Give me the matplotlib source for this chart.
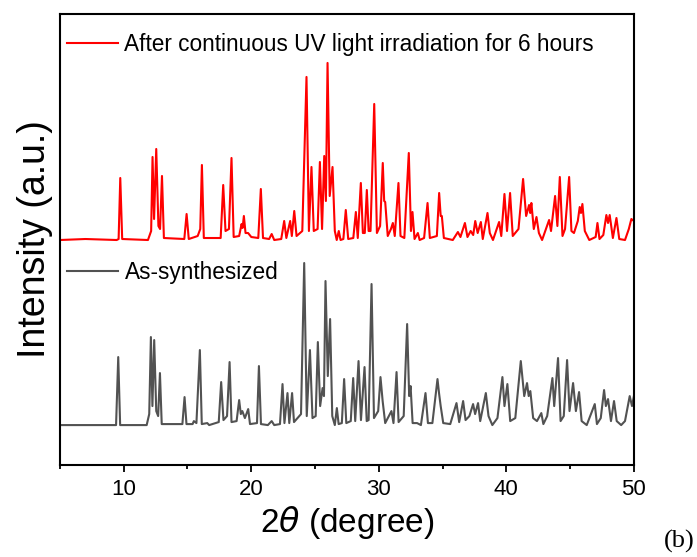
import matplotlib
matplotlib.use("Agg")
import matplotlib.pyplot as plt
from matplotlib.lines import Line2D
from matplotlib.ticker import MultipleLocator

# vertices: 2theta (deg), intensity (a.u., above own baseline)
uv_2theta = [5, 7, 9.45, 9.6, 9.73, 9.88, 11.9, 12.15, 12.26, 12.38, 12.55, 12.72, 12.85, 13.0, 13.15,
             14.75, 14.93, 15.1, 15.8, 16.0, 16.13, 16.28, 17.6, 17.8, 17.98, 18.25, 18.45, 18.62,
             19.05, 19.24, 19.32, 19.42, 19.55, 19.75, 20.0, 20.55, 20.75, 20.92, 21.4, 21.6, 21.8,
             22.35, 22.58, 22.75, 23.05, 23.18, 23.37, 23.55, 24.0, 24.33, 24.52, 24.72, 24.9, 25.2,
             25.38, 25.55, 25.72, 25.85, 25.98, 26.15, 26.37, 26.55, 26.7, 26.86, 27.0, 27.22, 27.41,
             27.6, 28.0, 28.2, 28.35, 28.59, 28.75, 28.9, 29.06, 29.2, 29.35, 29.64, 29.85, 30.1,
             30.31, 30.42, 30.5, 30.7, 30.95, 31.1, 31.25, 31.54, 31.7, 32.0, 32.35, 32.52, 32.64,
             32.8, 33.06, 33.2, 33.55, 33.82, 34.0, 34.55, 34.73, 34.85, 34.94, 35.1, 35.8, 36.2,
             36.4, 36.75, 36.95, 37.2, 37.4, 37.56, 37.75, 38.0, 38.15, 38.52, 38.7, 38.95, 39.43,
             39.6, 39.85, 40.05, 40.29, 40.5, 40.95, 41.31, 41.55, 41.78, 41.87, 41.96, 42.15, 42.36,
             42.55, 42.8, 43.35, 43.5, 43.82, 44.0, 44.19, 44.4, 44.6, 44.92, 45.1, 45.3, 45.6,
             45.75, 45.85, 45.96, 46.15, 46.5, 47.0, 47.14, 47.3, 47.6, 47.84, 47.97, 48.1, 48.35,
             48.63, 48.85, 49.3, 49.6, 49.8, 50]
uv_int = [1, 2, 1, 2, 63, 2, 1, 10, 84, 22, 92, 15, 12, 65, 3,
          2, 27, 2, 5, 12, 76, 3, 3, 56, 10, 12, 83, 4,
          5, 17, 13, 25, 8, 8, 4, 3, 52, 3, 2, 7, 1,
          2, 20, 3, 20, 5, 30, 5, 10, 164, 10, 74, 10, 12,
          79, 12, 85, 40, 178, 45, 74, 10, 1, 10, 1, 2, 31,
          2, 3, 29, 3, 58, 8, 8, 51, 10, 10, 137, 8, 15,
          78, 40, 39, 5, 12, 18, 5, 58, 5, 3, 88, 10, 29,
          2, 8, 1, 3, 38, 3, 5, 48, 25, 25, 3, 1, 9,
          4, 18, 4, 10, 6, 20, 8, 19, 2, 28, 8, 1, 19,
          5, 47, 10, 48, 5, 12, 62, 25, 36, 28, 38, 12, 24,
          8, 1, 21, 10, 45, 15, 64, 5, 12, 64, 10, 8, 20,
          34, 28, 37, 10, 1, 4, 18, 2, 6, 26, 18, 26, 3,
          23, 2, 1, 12, 22, 20]

as_2theta = [5, 7, 9.4, 9.57, 9.72, 11.8, 12.0, 12.13, 12.25, 12.39, 12.55, 12.7, 12.84, 12.98,
             14.6, 14.77, 14.92, 15.4, 15.5, 15.7, 15.97, 16.12, 16.55, 16.7, 17.45, 17.64, 17.82,
             18.1, 18.3, 18.45, 18.85, 19.05, 19.18, 19.3, 19.5, 19.76, 19.9, 20.45, 20.6, 20.76,
             21.3, 21.6, 21.8, 22.25, 22.45, 22.6, 22.84, 22.98, 23.2, 23.35, 23.9, 24.15, 24.35,
             24.6, 24.8, 25.05, 25.22, 25.4, 25.59, 25.7, 25.82, 26.0, 26.18, 26.35, 26.55, 26.71,
             26.85, 27.1, 27.28, 27.45, 27.8, 27.99, 28.15, 28.41, 28.6, 28.88, 29.05, 29.2, 29.43,
             29.62, 29.95, 30.13, 30.3, 30.5, 30.99, 31.15, 31.39, 31.55, 31.95, 32.22, 32.38, 32.49,
             32.65, 33.0, 33.3, 33.66, 33.85, 34.2, 34.6, 34.72, 34.85, 35.05, 35.6, 36.09, 36.3,
             36.61, 36.8, 37.1, 37.39, 37.55, 37.78, 37.95, 38.39, 38.6, 38.9, 39.3, 39.69, 39.85,
             40.08, 40.3, 40.7, 41.13, 41.4, 41.62, 41.75, 41.88, 42.1, 42.4, 42.74, 42.9, 43.2,
             43.61, 43.75, 44.05, 44.25, 44.5, 44.76, 44.95, 45.23, 45.45, 45.7, 45.9, 46.3, 46.93,
             47.1, 47.4, 47.66, 47.8, 47.97, 48.2, 48.44, 48.65, 49.0, 49.3, 49.67, 49.85, 50]
as_int = [1, 1, 1, 69, 1, 1, 12, 89, 20, 86, 15, 10, 53, 2,
          2, 29, 2, 2, 5, 3, 76, 2, 3, 1, 4, 44, 6,
          10, 64, 4, 5, 26, 12, 15, 8, 17, 2, 3, 60, 2,
          1, 5, 1, 2, 42, 3, 33, 3, 33, 4, 12, 163, 10,
          76, 8, 10, 84, 20, 38, 30, 145, 50, 107, 10, 1, 18,
          2, 3, 47, 3, 5, 48, 5, 65, 6, 59, 5, 6, 142,
          8, 15, 49, 25, 3, 15, 3, 54, 4, 10, 102, 30, 40,
          3, 3, 1, 33, 3, 3, 47, 33, 20, 3, 2, 23, 4,
          25, 6, 10, 22, 12, 23, 5, 33, 10, 1, 8, 49, 20,
          42, 5, 8, 65, 30, 43, 30, 35, 8, 5, 13, 2, 10,
          48, 20, 68, 5, 10, 66, 15, 43, 15, 34, 5, 1, 22,
          2, 8, 36, 20, 27, 5, 25, 5, 1, 5, 30, 20, 30]

uv_offset = 185
red = "#ff0000"
grey = "#525252"

fig = plt.figure(figsize=(6.97, 5.57), dpi=100)
ax = fig.add_axes([0.086, 0.165, 0.8235, 0.81])

ax.plot(as_2theta, as_int, color=grey, lw=1.5)
ax.plot(uv_2theta, [v + uv_offset for v in uv_int], color=red, lw=1.5)

ax.set_xlim(5, 50)
ax.set_ylim(-39, 412)
ax.xaxis.set_major_locator(MultipleLocator(10))
ax.xaxis.set_minor_locator(MultipleLocator(5))
ax.set_yticks([])
ax.tick_params(axis="x", which="major", direction="out", length=5, width=1.3, labelsize=16, pad=5)
ax.tick_params(axis="x", which="minor", direction="out", length=3, width=1.3)
for s in ax.spines.values():
    s.set_linewidth(1.5)

for lbl in ax.get_xticklabels():
    lbl.set_family("Liberation Sans")

ax.set_xlabel(r"2$\theta$ (degree)", fontsize=24, family="Liberation Sans", labelpad=3)
ax.set_ylabel("Intensity (a.u.)", fontsize=27, family="Liberation Sans", labelpad=5)

leg_font = {"family": "Liberation Sans", "size": 16.3}
leg1 = ax.legend([Line2D([], [], color=red, lw=1.5)],
                 ["After continuous UV light irradiation for 6 hours"],
                 loc="center left", bbox_to_anchor=(0.0, 0.933), frameon=False, prop=leg_font,
                 handlelength=2.25, handletextpad=0.3, borderaxespad=0, borderpad=0.3)
ax.add_artist(leg1)
ax.legend([Line2D([], [], color=grey, lw=1.5)], ["As-synthesized"],
          loc="center left", bbox_to_anchor=(0.0, 0.426), frameon=False, prop=leg_font,
          handlelength=2.25, handletextpad=0.3, borderaxespad=0, borderpad=0.3)

fig.text(0.997, 0.008, "(b)", fontsize=19, family="Liberation Serif", ha="right", va="bottom")

fig.savefig("out.png", dpi=100)
